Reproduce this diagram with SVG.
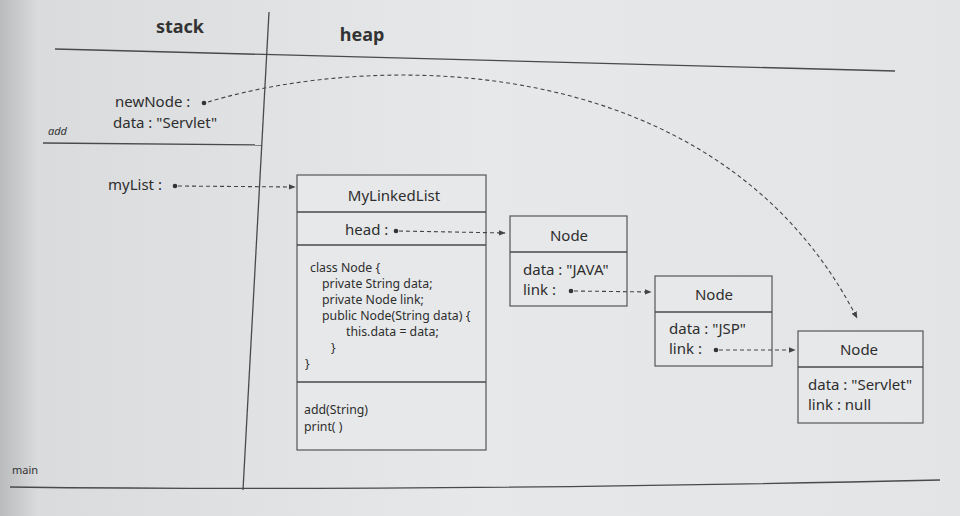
<svg xmlns="http://www.w3.org/2000/svg" width="960" height="516" viewBox="0 0 960 516">
<defs>
<linearGradient id="bg" x1="0" y1="0" x2="1" y2="0">
<stop offset="0" stop-color="#b9bbbd"/>
<stop offset="0.04" stop-color="#d9dbdd"/>
<stop offset="0.5" stop-color="#e6e8ea"/>
<stop offset="1" stop-color="#e2e4e6"/>
</linearGradient>
<marker id="ah" viewBox="0 0 10 10" refX="9" refY="5" markerWidth="7" markerHeight="7" orient="auto" markerUnits="userSpaceOnUse">
<path d="M0,1 L10,5 L0,9 z" fill="#444"/>
</marker>
<style>
.ln{stroke:#4a4a4a;stroke-width:1.3;fill:none}
.box{stroke:#555;stroke-width:1.2;fill:#e6e8ea}
.t{font-family:"Noto Sans","Open Sans",sans-serif;font-size:15px;fill:#2e2e2e}
.s{font-family:"Noto Sans","Open Sans",sans-serif;font-size:12.3px;fill:#2e2e2e}
.h{font-family:"Noto Sans","Open Sans",sans-serif;font-size:18px;font-weight:bold;fill:#333}
.sm{font-family:"Noto Sans","Open Sans",sans-serif;font-size:11px;fill:#333}
.dash{stroke:#444;stroke-width:1.1;fill:none;stroke-dasharray:4 3;marker-end:url(#ah)}
.dot{fill:#333}
</style>
</defs>
<rect x="0" y="0" width="960" height="516" fill="url(#bg)"/>

<g id="frame">
<path class="ln" d="M55,49 L895,71"/>
<path class="ln" d="M269,12 L243,490"/>
<path class="ln" d="M43,143 L262,145"/>
<path class="ln" d="M10,487 Q400,492 940,480"/>
<text class="h" x="180" y="33" text-anchor="middle">stack</text>
<text class="h" x="362" y="41" text-anchor="middle">heap</text>
<text class="sm" x="48" y="135" font-style="italic">add</text>
<text class="sm" x="12" y="474">main</text>
</g>

<g id="stack-vars">
<text class="t" x="115" y="107">newNode :</text>
<circle class="dot" cx="204" cy="103" r="2.3"/>
<text class="t" x="113" y="128">data : "Servlet"</text>
<text class="t" x="108" y="190">myList :</text>
<circle class="dot" cx="175" cy="186" r="2.3"/>
</g>

<g id="mylinkedlist">
<rect class="box" x="297" y="175" width="189" height="275"/>
<path class="ln" d="M297,212 H486 M297,245 H486 M297,382 H486"/>
<text class="t" x="394" y="201" text-anchor="middle">MyLinkedList</text>
<text class="t" x="345" y="235">head :</text>
<circle class="dot" cx="396" cy="231" r="2.3"/>
<text class="s" x="310" y="272">class Node {</text>
<text class="s" x="322" y="288">private String data;</text>
<text class="s" x="322" y="304">private Node link;</text>
<text class="s" x="322" y="320">public Node(String data) {</text>
<text class="s" x="346" y="336">this.data = data;</text>
<text class="s" x="331" y="352">}</text>
<text class="s" x="305" y="368">}</text>
<text class="s" x="304" y="414">add(String)</text>
<text class="s" x="304" y="431">print( )</text>
</g>

<g id="node-java">
<rect class="box" x="510" y="216" width="117" height="90"/>
<path class="ln" d="M510,252 H627"/>
<text class="t" x="569" y="241" text-anchor="middle">Node</text>
<text class="t" x="523" y="275">data : "JAVA"</text>
<text class="t" x="523" y="295">link :</text>
<circle class="dot" cx="571" cy="291" r="2.3"/>
</g>

<g id="node-jsp">
<rect class="box" x="655" y="276" width="117" height="90"/>
<path class="ln" d="M655,312 H772"/>
<text class="t" x="714" y="300" text-anchor="middle">Node</text>
<text class="t" x="669" y="334">data : "JSP"</text>
<text class="t" x="669" y="354">link :</text>
<circle class="dot" cx="716" cy="350" r="2.3"/>
</g>

<g id="node-servlet">
<rect class="box" x="798" y="331" width="125" height="92"/>
<path class="ln" d="M798,367 H923"/>
<text class="t" x="859" y="355" text-anchor="middle">Node</text>
<text class="t" x="808" y="390">data : "Servlet"</text>
<text class="t" x="808" y="410">link : null</text>
</g>

<g id="connectors">
<path class="dash" d="M178,186 L295,187"/>
<path class="dash" d="M399,231 L505,233"/>
<path class="dash" d="M574,291 L651,292"/>
<path class="dash" d="M719,350 L795,350"/>
<path class="dash" d="M208,102 C380,50 720,50 857,318"/>
</g>
</svg>
